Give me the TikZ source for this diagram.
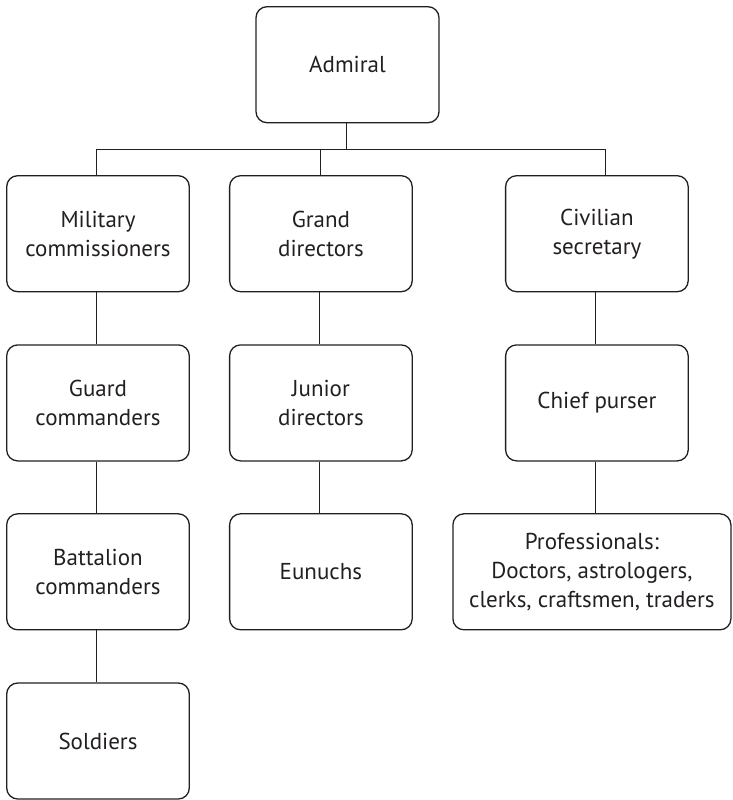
\documentclass[tikz,border=0pt]{standalone}
\usepackage{fontspec}
\setmainfont{PT Sans}
\definecolor{ink}{HTML}{231F20}
\begin{document}
\begin{tikzpicture}[x=1pt,y=-1pt,
  box/.style={draw=ink, line width=1.3pt, rounded corners=11pt,
    minimum width=182.6pt, minimum height=116pt, align=center,
    text=ink, font=\fontsize{23}{29}\selectfont, inner sep=0pt},
  conn/.style={draw=ink, line width=1.2pt}]
\useasboundingbox (0,0) rectangle (733,800);

% top of the hierarchy
\node[box, minimum width=183pt] (admiral) at (347.5,64.7) {Admiral};

% first column: military line
\node[box] (mil)  at (98,233.7) {Military\\commissioners};
\node[box] (guard) at (98,402.9) {Guard\\commanders};
\node[box] (bat)  at (98,571.8) {Battalion\\commanders};
\node[box] (sold) at (98,741)   {Soldiers};

% second column: directors
\node[box] (grand) at (320.9,233.7) {Grand\\directors};
\node[box] (junior) at (320.9,402.9) {Junior\\directors};
\node[box] (eun) at (320.9,571.8) {Eunuchs};

% third column: civilian line
\node[box] (civ) at (596.9,233.7) {Civilian\\secretary};
\node[box] (purser) at (596.9,402.9) {Chief purser};
\node[box, minimum width=278pt] (prof) at (591.9,571.8)
  {Professionals:\\Doctors, astrologers,\\clerks, craftsmen, traders};

% branching bus below the admiral
\coordinate (bus) at (346.7,149.3);
\coordinate (civtop) at ([xshift=8.8pt]civ.north);
\draw[conn] (admiral.south -| bus) -- (bus);
\draw[conn] (mil.north -| 96.7,0) |- (bus) -| (civtop);
\draw[conn] (grand.north -| 320.7,0) -- (bus -| 320.7,0);

% vertical links inside each column
\draw[conn] (mil.south -| 96.7,0) -- (guard.north -| 96.7,0);
\draw[conn] (guard.south -| 96.7,0) -- (bat.north -| 96.7,0);
\draw[conn] (bat.south -| 96.7,0) -- (sold.north -| 96.7,0);
\draw[conn] (grand.south -| 319.5,0) -- (junior.north -| 319.5,0);
\draw[conn] (junior.south -| 319.5,0) -- (eun.north -| 319.5,0);
\draw[conn] (civ.south -| 595.7,0) -- (purser.north -| 595.7,0);
\draw[conn] (purser.south -| 595.7,0) -- (prof.north -| 595.7,0);
\end{tikzpicture}
\end{document}
